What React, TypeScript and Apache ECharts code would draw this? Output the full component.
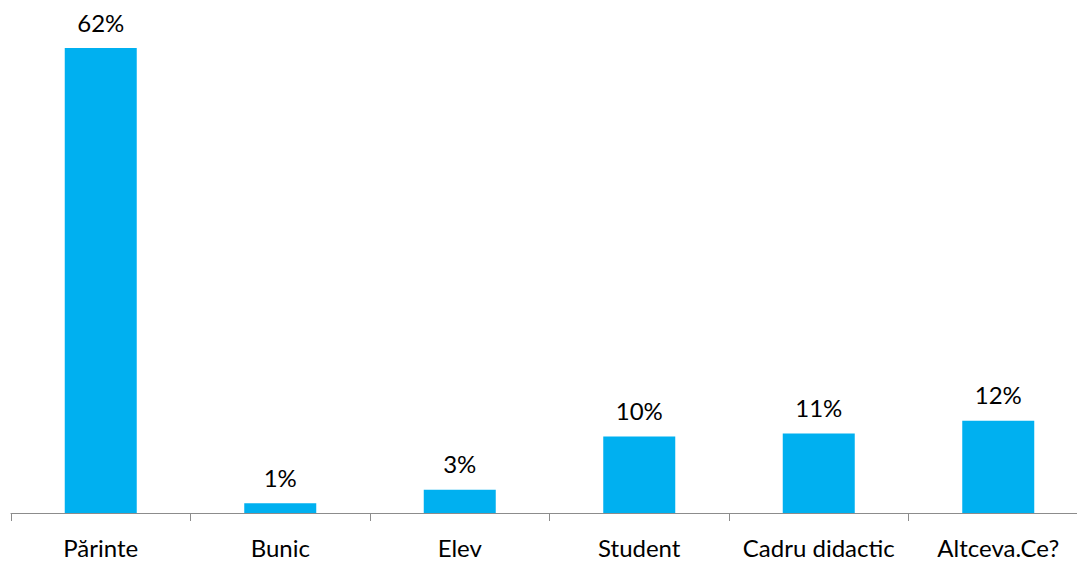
import React, { useEffect, useRef } from "react";
import * as echarts from "echarts";

const categories = ["Părinte", "Bunic", "Elev", "Student", "Cadru didactic", "Altceva.Ce?"];
const values = [62, 1.3, 3.1, 10.2, 10.6, 12.3];

export default function App() {
  const ref = useRef<HTMLDivElement>(null);
  useEffect(() => {
    if (!ref.current) return;
    const chart = echarts.init(ref.current, null, { renderer: "svg" });
    chart.setOption({
      animation: false,
      grid: { left: 11, top: 25.5, right: 2, bottom: 48 },
      xAxis: {
        type: "category",
        data: categories,
        axisLine: { lineStyle: { color: "#8c8c8c", width: 1 } },
        axisTick: { show: true, length: 8, lineStyle: { color: "#8c8c8c" } },
        axisLabel: {
          color: "#000",
          fontSize: 24,
          fontFamily: "Lato, 'Open Sans', sans-serif",
          margin: 22,
          interval: 0,
        },
      },
      yAxis: {
        type: "value",
        min: 0,
        max: 65,
        show: false,
        splitLine: { show: false },
      },
      series: [
        {
          type: "bar",
          data: values,
          barWidth: 72,
          itemStyle: { color: "#00B0F0" },
          label: {
            show: true,
            position: "top",
            distance: 14,
            color: "#000",
            fontSize: 24,
            fontFamily: "Lato, 'Open Sans', sans-serif",
            formatter: (p: any) => Math.round(p.value) + "%",
          },
        },
      ],
    });
    return () => chart.dispose();
  }, []);
  return (
    <div
      ref={ref}
      style={{ position: "fixed", left: 0, top: 0, width: 1090, height: 561, background: "#fff" }}
    />
  );
}
